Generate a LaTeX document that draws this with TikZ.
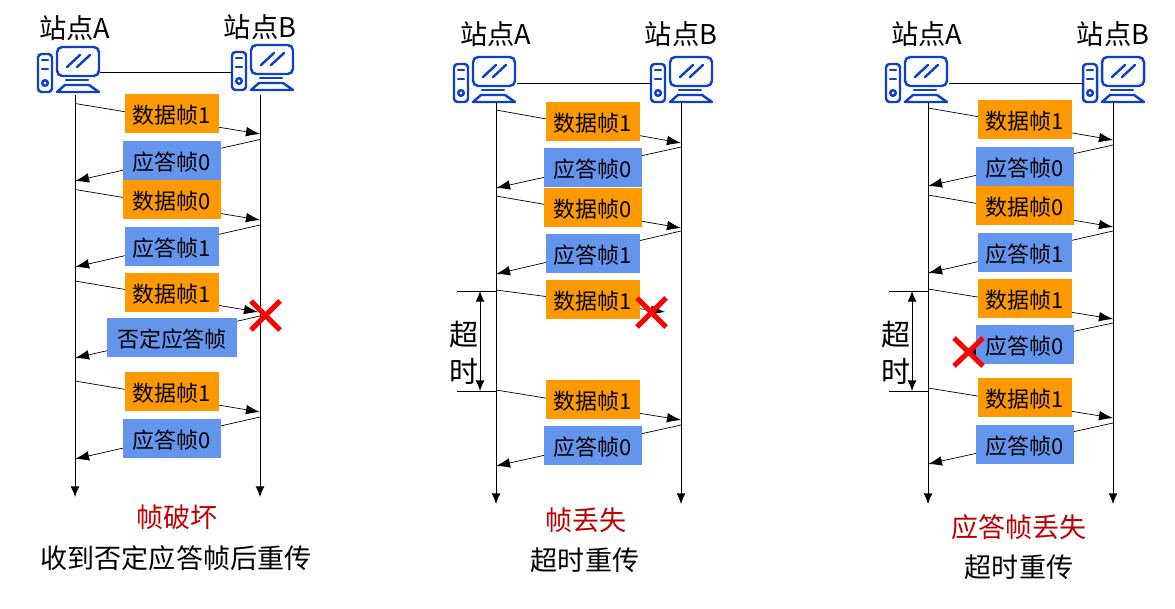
\documentclass[tikz,border=0pt]{standalone}
\usepackage{fontspec}
\setmainfont{Noto Sans CJK SC}
\usetikzlibrary{arrows.meta}
\definecolor{iconblue}{RGB}{15,65,200}
\definecolor{dataorange}{RGB}{255,153,0}
\definecolor{ackblue}{RGB}{100,149,237}
\definecolor{captionred}{RGB}{192,0,0}
\tikzset{
    lifeline/.style={-{Latex[length=6pt,width=5pt]}, line width=0.5pt},
    msgline/.style={-{Latex[length=8pt,width=5.5pt]}, line width=0.4pt},
    framebox/.style={minimum height=0.78cm, inner sep=0pt, text height=11.5pt, text depth=0.3pt, font=\fontsize{12.5}{12.5}\selectfont},
    databox/.style={framebox, fill=dataorange},
    ackbox/.style={framebox, fill=ackblue},
    stationlabel/.style={font=\fontsize{15.5}{15.5}\selectfont},
    sidelabel/.style={font=\fontsize{16.5}{16.5}\selectfont},
    captionlabel/.style={font=\fontsize{15.4}{15.4}\selectfont},
    lostmark/.style={draw=red, line width=2.9pt},
    timeoutarrow/.style={{Latex[length=6pt,width=5pt]}-{Latex[length=6pt,width=5pt]}, line width=0.5pt},
    pics/host/.style={code={
        \begin{scope}[line width=1.4pt, line cap=round, line join=round]
            %tower
            \draw[iconblue, rounded corners=2pt] (0,8) rectangle (14,46);
            \draw[iconblue] (4,14) -- (10,14);
            \draw[iconblue] (4,23) -- (10,23);
            \draw[iconblue] (7,37) circle [radius=2.8];
            %monitor
            \draw[iconblue, rounded corners=3pt] (19,1) rectangle (61,30);
            \draw[iconblue] (29,21) -- (42,9);
            \draw[iconblue] (39,21) -- (52,9);
            %stand
            \draw[iconblue] (28,34) -- (50,34);
            \draw[iconblue] (27,39) -- (51,39) -- (61,46) -- (19,46) -- cycle;
        \end{scope}
    }},
}
\begin{document}
\begin{tikzpicture}[x=0.02cm, y=-0.02cm]
    \useasboundingbox (0,0) rectangle (1175,608);
    %first panel
    \node[stationlabel] (A1) at (75,28) {站点A};
    \node[stationlabel] (B1) at (260,27) {站点B};
    \pic at (38,46) {host};
    \pic at (232,44) {host};
    \coordinate (HA1) at (100,72);
    \coordinate (HB1) at (232,72);
    \draw[line width=0.5pt] (HA1) -- (HB1);
    \coordinate (TA1) at (75,95);
    \coordinate (EA1) at (75,497);
    \coordinate (TB1) at (260,95);
    \coordinate (EB1) at (260,497);
    \draw[lifeline] (TA1) -- (EA1);
    \draw[lifeline] (TB1) -- (EB1);
    \foreach \name/\xa/\ya/\xb/\yb in {
        a/75/103.5/260/134, b/260/139.5/75/181, c/75/189.5/260/220, d/260/225/75/267,
        e/75/281/258/312, f/260/316/75/358, g/75/381/260/412, h/260/417/75/459}
        \draw[msgline] (\xa,\ya) coordinate (s1\name) -- (\xb,\yb) coordinate (t1\name);
    \node[databox, minimum width=1.88cm] (d1a) at (172,113.5) {数据帧1};
    \node[ackbox, minimum width=1.96cm] (r1a) at (172,160.5) {应答帧0};
    \node[databox, minimum width=1.96cm] (d1b) at (172,199.5) {数据帧0};
    \node[ackbox, minimum width=1.88cm] (r1b) at (172,246.5) {应答帧1};
    \node[databox, minimum width=1.88cm] (d1c) at (172,292.5) {数据帧1};
    \node[ackbox, minimum width=2.6cm] (r1c) at (172,337.5) {否定应答帧};
    \node[databox, minimum width=1.88cm] (d1d) at (172,391.5) {数据帧1};
    \node[ackbox, minimum width=1.96cm] (r1d) at (172,438.5) {应答帧0};
    \draw[lostmark] (251,301) -- (280,330);
    \draw[lostmark] (280,301) -- (251,330);
    \node[captionlabel, text=captionred] (C1) at (177,517) {帧破坏};
    \node[captionlabel] (S1) at (176,558) {收到否定应答帧后重传};
    %second panel
    \node[stationlabel] (A2) at (496,34) {站点A};
    \node[stationlabel] (B2) at (681,34) {站点B};
    \pic at (454,56) {host};
    \pic at (651,56) {host};
    \coordinate (HA2) at (517,83);
    \coordinate (HB2) at (651,83);
    \draw[line width=0.5pt] (HA2) -- (HB2);
    \coordinate (TA2) at (496,103);
    \coordinate (EA2) at (496,504);
    \coordinate (TB2) at (681,103);
    \coordinate (EB2) at (681,504);
    \draw[lifeline] (TA2) -- (EA2);
    \draw[lifeline] (TB2) -- (EB2);
    \foreach \name/\xa/\ya/\xb/\yb in {
        a/496/110/681/143, b/681/147/496/188, c/496/196/681/228, d/681/231/496/274,
        e/496/290/665/312, g/496/390/681/420, h/681/425/496/466}
        \draw[msgline] (\xa,\ya) coordinate (s2\name) -- (\xb,\yb) coordinate (t2\name);
    \node[databox, minimum width=1.88cm] (d2a) at (593,121.5) {数据帧1};
    \node[ackbox, minimum width=1.96cm] (r2a) at (593,167.5) {应答帧0};
    \node[databox, minimum width=1.96cm] (d2b) at (593,207.5) {数据帧0};
    \node[ackbox, minimum width=1.88cm] (r2b) at (593,253.5) {应答帧1};
    \node[databox, minimum width=1.88cm] (d2c) at (593,299.5) {数据帧1};
    \node[databox, minimum width=1.88cm] (d2d) at (593,399.5) {数据帧1};
    \node[ackbox, minimum width=1.96cm] (r2d) at (593,445.5) {应答帧0};
    \draw[lostmark] (637,298) -- (666,327);
    \draw[lostmark] (666,298) -- (637,327);
    \coordinate (L2a) at (457,291);
    \coordinate (R2a) at (496,291);
    \coordinate (L2b) at (457,391);
    \coordinate (R2b) at (496,391);
    \draw[line width=0.5pt] (L2a) -- (R2a);
    \draw[line width=0.5pt] (L2b) -- (R2b);
    \coordinate (U2) at (480,291);
    \coordinate (V2) at (480,391);
    \draw[timeoutarrow] (U2) -- (V2);
    \node[sidelabel] (O2a) at (464,334) {超};
    \node[sidelabel] (O2b) at (464,371) {时};
    \node[captionlabel, text=captionred] (C2) at (586,520) {帧丢失};
    \node[captionlabel] (S2) at (585,560) {超时重传};
    %third panel
    \node[stationlabel] (A3) at (927,34) {站点A};
    \node[stationlabel] (B3) at (1113,34) {站点B};
    \pic at (886,56) {host};
    \pic at (1083,56) {host};
    \coordinate (HA3) at (949,83);
    \coordinate (HB3) at (1083,83);
    \draw[line width=0.5pt] (HA3) -- (HB3);
    \coordinate (TA3) at (928,103);
    \coordinate (EA3) at (928,504);
    \coordinate (TB3) at (1113,103);
    \coordinate (EB3) at (1113,504);
    \draw[lifeline] (TA3) -- (EA3);
    \draw[lifeline] (TB3) -- (EB3);
    \foreach \name/\xa/\ya/\xb/\yb in {
        a/928/108/1113/140, b/1113/145/928/186, c/928/195/1113/227, d/1113/231/928/273,
        e/928/289/1113/319, f/1113/323/963/355, g/928/388/1113/418, h/1113/423/928/464}
        \draw[msgline] (\xa,\ya) coordinate (s3\name) -- (\xb,\yb) coordinate (t3\name);
    \node[databox, minimum width=1.88cm] (d3a) at (1025,119.5) {数据帧1};
    \node[ackbox, minimum width=1.96cm] (r3a) at (1025,166.5) {应答帧0};
    \node[databox, minimum width=1.96cm] (d3b) at (1025,205.5) {数据帧0};
    \node[ackbox, minimum width=1.88cm] (r3b) at (1025,252.5) {应答帧1};
    \node[databox, minimum width=1.88cm] (d3c) at (1025,298.5) {数据帧1};
    \node[ackbox, minimum width=1.96cm] (r3c) at (1025,344.5) {应答帧0};
    \node[databox, minimum width=1.88cm] (d3d) at (1025,397.5) {数据帧1};
    \node[ackbox, minimum width=1.96cm] (r3d) at (1025,444.5) {应答帧0};
    \draw[lostmark] (954,338) -- (983,366);
    \draw[lostmark] (983,338) -- (954,366);
    \coordinate (L3a) at (889,291);
    \coordinate (R3a) at (928,291);
    \coordinate (L3b) at (889,391);
    \coordinate (R3b) at (928,391);
    \draw[line width=0.5pt] (L3a) -- (R3a);
    \draw[line width=0.5pt] (L3b) -- (R3b);
    \coordinate (U3) at (912,291);
    \coordinate (V3) at (912,391);
    \draw[timeoutarrow] (U3) -- (V3);
    \node[sidelabel] (O3a) at (896,334) {超};
    \node[sidelabel] (O3b) at (896,371) {时};
    \node[captionlabel, text=captionred] (C3) at (1019,527) {应答帧丢失};
    \node[captionlabel] (S3) at (1019,567) {超时重传};
\end{tikzpicture}
\end{document}
